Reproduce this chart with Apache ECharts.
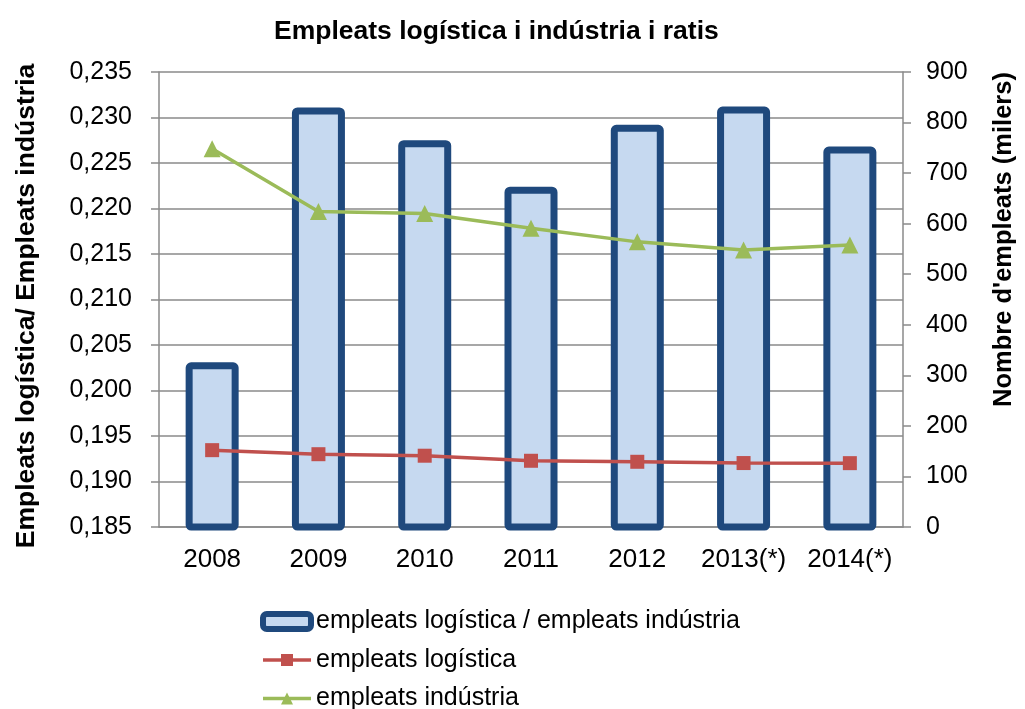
<!DOCTYPE html>
<html>
<head>
<meta charset="utf-8">
<script src="https://cdn.jsdelivr.net/npm/echarts@6/dist/echarts.min.js"></script>
<style>
  html, body { margin: 0; padding: 0; background: #fff; }
  #chart { width: 1025px; height: 709px; }
</style>
</head>
<body>
<div id="chart"></div>
<script>
// data
var years = ['2008', '2009', '2010', '2011', '2012', '2013(*)', '2014(*)'];
var ratio = [0.2031, 0.2311, 0.2275, 0.2224, 0.2292, 0.2312, 0.2268];
var logistica = [152, 144, 141, 131, 129, 126.5, 126.3];
var industria = [748, 624, 620, 591, 564, 548, 558];
var seriesNames = ['empleats logística / empleats indústria', 'empleats logística', 'empleats indústria'];

var font = '"Liberation Sans", Arial, sans-serif';
var gray = '#8a8a8a';

var myChart = echarts.init(document.getElementById('chart'));
const option = {
  textStyle: { fontFamily: font },
  title: {
    text: 'Empleats logística i indústria i ratis',
    left: 269,
    top: 13,
    textStyle: { fontSize: 26.5, fontWeight: 'bold', color: '#000', fontFamily: font }
  },
  legend: {
    orient: 'vertical',
    left: 260,
    top: 609,
    height: 110,
    padding: 0,
    itemGap: 13.5,
    itemWidth: 48,
    itemHeight: 15,
    data: [
      { name: seriesNames[0], itemStyle: { borderWidth: 6, borderRadius: 3 } },
      { name: seriesNames[1], lineStyle: { width: 3.5 } },
      { name: seriesNames[2], lineStyle: { width: 3.5 } }
    ],
    textStyle: { fontSize: 25, color: '#000', fontFamily: font }
  },
  grid: {
    left: 159,
    right: 120,
    top: 72,
    bottom: 182
  },
  xAxis: [{
    type: 'category',
    data: years,
    axisLine: { lineStyle: { color: gray, width: 1.5 } },
    axisTick: { length: 7, lineStyle: { color: gray, width: 1.5 } },
    axisLabel: { fontSize: 26, color: '#000', margin: 20, interval: 0 }
  }],
  yAxis: [{
    type: 'value',
    min: 0.185,
    max: 0.235,
    interval: 0.005,
    name: 'Empleats logística/ Empleats indústria',
    nameLocation: 'middle',
    nameRotate: 90,
    nameGap: 119,
    nameTextStyle: { fontSize: 26.5, fontWeight: 'bold', color: '#000', padding: [0, 13, 0, 0] },
    axisLine: { show: true, lineStyle: { color: gray, width: 1.5 } },
    axisTick: { show: true, length: 8, lineStyle: { color: gray, width: 1.5 } },
    axisLabel: {
      fontSize: 25, color: '#000', margin: 27,
      formatter: function (v) { return v.toFixed(3).replace('.', ','); }
    },
    splitLine: { lineStyle: { color: gray, width: 1.5 } }
  }, {
    type: 'value',
    min: 0,
    max: 900,
    interval: 100,
    position: 'right',
    name: "Nombre d'empleats (milers)",
    nameLocation: 'middle',
    nameRotate: 90,
    nameGap: 88,
    nameTextStyle: { fontSize: 25.5, fontWeight: 'bold', color: '#000', padding: [0, 0, 0, 120] },
    axisLine: { show: true, lineStyle: { color: gray, width: 1.5 } },
    axisTick: { show: true, length: 8, lineStyle: { color: gray, width: 1.5 } },
    axisLabel: { fontSize: 25, color: '#000', margin: 23 },
    splitLine: { show: false }
  }],
  series: [{
    name: seriesNames[0],
    type: 'bar',
    yAxisIndex: 0,
    barWidth: 53,
    data: ratio,
    itemStyle: {
      color: '#C6D9F0',
      borderColor: '#1F497D',
      borderWidth: 7,
      borderRadius: 2
    }
  }, {
    name: seriesNames[1],
    type: 'line',
    yAxisIndex: 1,
    data: logistica,
    symbol: 'rect',
    symbolSize: 14,
    lineStyle: { color: '#C0504D', width: 3.5 },
    itemStyle: { color: '#C0504D' }
  }, {
    name: seriesNames[2],
    type: 'line',
    yAxisIndex: 1,
    data: industria,
    symbol: 'triangle',
    symbolSize: 17,
    lineStyle: { color: '#9BBB59', width: 3.5 },
    itemStyle: { color: '#9BBB59' }
  }],
  animation: false
};

myChart.setOption(option);
window.addEventListener('resize', () => {
  myChart.resize();
});
</script>
</body>
</html>
